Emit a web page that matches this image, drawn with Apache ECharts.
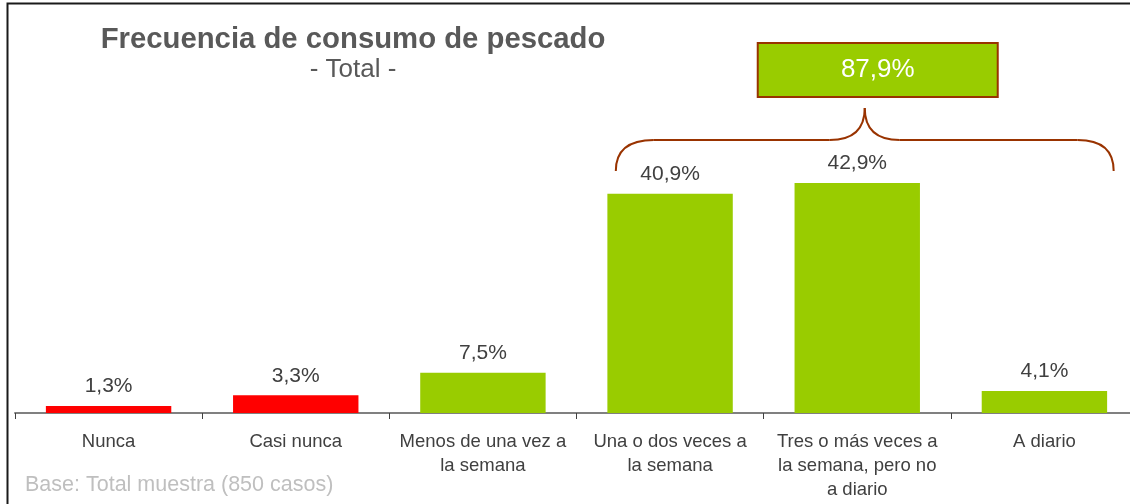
<!DOCTYPE html>
<html>
<head>
<meta charset="utf-8">
<script src="https://cdn.jsdelivr.net/npm/echarts@6/dist/echarts.min.js"></script>
<style>
  html, body { margin: 0; padding: 0; background: #fff; }
  #chart { width: 1130px; height: 504px; }
</style>
</head>
<body>
<div id="chart"></div>
<script>
  // datos
  var categories = ['Nunca', 'Casi nunca', 'Menos de una vez a\nla semana', 'Una o dos veces a\nla semana', 'Tres o más veces a\nla semana, pero no\na diario', 'A diario'];
  var values = [1.3, 3.3, 7.5, 40.9, 42.9, 4.1];
  var bracedIdx = [3, 4, 5];  // categorias agrupadas por la llave

  var FONT = 'Arial, "Liberation Sans", sans-serif';
  var fmt = function (v) { return v.toFixed(1).replace('.', ',') + '%'; };

  var chart = echarts.init(document.getElementById('chart'));

  var option = {
    animation: false,
    textStyle: { fontFamily: FONT },
    title: {
      text: 'Frecuencia de consumo de pescado',
      subtext: '- Total -',
      left: 348,
      top: 20,
      textAlign: 'center',
      itemGap: 3,
      textStyle: { fontFamily: FONT, fontSize: 29.3, fontWeight: 'bold', color: '#595959' },
      subtextStyle: { fontFamily: FONT, fontSize: 26, color: '#595959' }
    },
    grid: { left: 15, top: 145, width: 1123, height: 268, outerBoundsMode: 'none' },
    xAxis: {
      type: 'category',
      data: categories,
      axisLine: { lineStyle: { color: '#808080', width: 2 } },
      axisTick: { show: true, length: 6, lineStyle: { color: '#404040', width: 1 } },
      axisLabel: { interval: 0, color: '#404040', fontSize: 18.5, lineHeight: 24, margin: 17, fontFamily: FONT }
    },
    yAxis: { type: 'value', min: 0, max: 50, show: false },
    series: [{
      type: 'bar',
      barWidth: '67%',
      data: values.map(function (v, i) {
        return { value: v, itemStyle: { color: i < 2 ? '#FF0000' : '#99CC00' } };
      }),
      label: {
        show: true,
        position: 'top',
        distance: 9,
        color: '#404040',
        fontSize: 21,
        fontFamily: FONT,
        formatter: function (p) { return fmt(p.value); }
      }
    }]
  };
  chart.setOption(option);

  // llave y recuadro de suma, colocados con las escalas del gráfico
  var first = bracedIdx[0], last = bracedIdx[bracedIdx.length - 1];
  var c0 = chart.convertToPixel({ xAxisIndex: 0 }, first);
  var c1 = chart.convertToPixel({ xAxisIndex: 0 }, last);
  var band = chart.convertToPixel({ xAxisIndex: 0 }, 1) - chart.convertToPixel({ xAxisIndex: 0 }, 0);
  var maxV = Math.max.apply(null, bracedIdx.map(function (i) { return values[i]; }));
  var total = bracedIdx.reduce(function (s, i) { return s + values[i]; }, 0);

  var L = c0 - 0.29 * band, R = c1 + 0.37 * band;
  var tipY = chart.convertToPixel({ yAxisIndex: 0 }, maxV) - 12;
  var hY = tipY - 31, pY = hY - 32;
  var M = (L + R) / 2;
  var brace = { stroke: '#993300', lineWidth: 2, fill: null };
  var curve = function (x1, y1, x2, y2, cx, cy) {
    return { type: 'bezierCurve', shape: { x1: x1, y1: y1, x2: x2, y2: y2, cpx1: cx, cpy1: cy }, style: brace };
  };
  var seg = function (x1, y1, x2, y2) {
    return { type: 'line', shape: { x1: x1, y1: y1, x2: x2, y2: y2 }, style: brace };
  };

  var boxW = 240, boxH = 54, boxX = M + 13 - boxW / 2, boxY = pY - 65;

  chart.setOption({
    graphic: [
      { type: 'polyline', shape: { points: [[1131, 3.5], [7.5, 3.5], [7.5, 505]] }, style: { stroke: '#1a1a1a', lineWidth: 2, fill: null } },
      curve(L, tipY, L + 38, hY, L, hY),
      seg(L + 38, hY, M - 35, hY),
      curve(M - 35, hY, M, pY, M, hY),
      curve(M, pY, M + 35, hY, M, hY),
      seg(M + 35, hY, R - 36, hY),
      curve(R - 36, hY, R, tipY, R, hY),
      { type: 'rect', shape: { x: boxX, y: boxY, width: boxW, height: boxH }, style: { fill: '#99CC00', stroke: '#993300', lineWidth: 2 } },
      { type: 'text', x: boxX + boxW / 2, y: boxY + boxH / 2, style: { text: fmt(total), fill: '#fff', font: '26px ' + FONT, textAlign: 'center', textVerticalAlign: 'middle' } },
      { type: 'text', x: 25, y: 485, style: { text: 'Base: Total muestra (850 casos)', fill: '#BFBFBF', font: '21.5px ' + FONT, textVerticalAlign: 'middle' } }
    ]
  });
</script>
</body>
</html>
